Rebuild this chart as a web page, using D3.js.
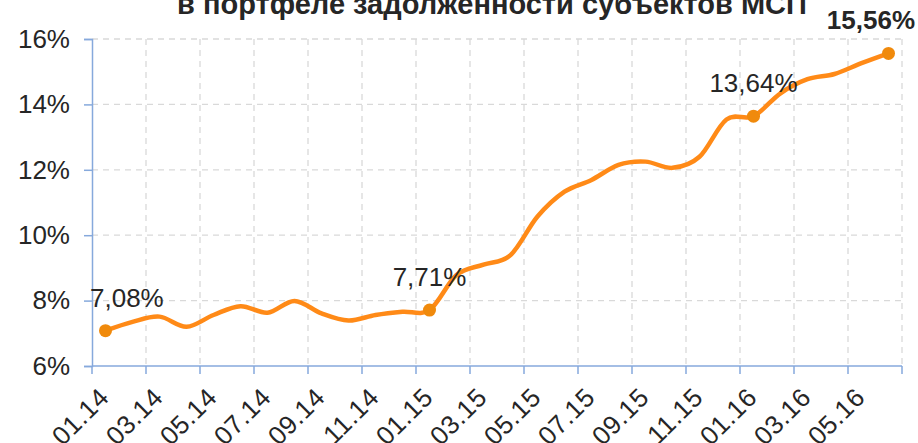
<!DOCTYPE html>
<html>
<head>
<meta charset="utf-8">
<script src="https://cdn.jsdelivr.net/npm/d3@7"></script>
<style>
  body { margin: 0; background: #fff; }
  text { font-family: "Liberation Sans", Arial, sans-serif; fill: #262626; }
</style>
</head>
<body>
<div id="chart"></div>
<script>
// months 01.14 .. 06.16
var months = ['01.14','02.14','03.14','04.14','05.14','06.14','07.14','08.14','09.14','10.14','11.14','12.14',
              '01.15','02.15','03.15','04.15','05.15','06.15','07.15','08.15','09.15','10.15','11.15','12.15',
              '01.16','02.16','03.16','04.16','05.16','06.16'];
// share, %
var shares = [7.08, 7.35, 7.51, 7.20, 7.56, 7.83, 7.63, 7.99, 7.61, 7.39, 7.56, 7.66,
              7.71, 8.78, 9.10, 9.39, 10.57, 11.33, 11.69, 12.15, 12.25, 12.06, 12.40, 13.54,
              13.64, 14.34, 14.77, 14.93, 15.26, 15.56];
var yTicks = [6, 8, 10, 12, 14, 16];
var labelled = ['01.14', '01.15', '01.16', '06.16'];
var title = 'в портфеле задолженности субъектов МСП';

var width = 918, height = 443;
var pLeft = 92, pRight = 902, pTop = 39, pBottom = 366;

var svg = d3.select('#chart').append('svg')
  .attr('width', width)
  .attr('height', height);

var x = d3.scaleBand().domain(months).range([pLeft, pRight]);
var y = d3.scaleLinear().domain([6, 16]).range([pBottom, pTop]);

// title (first line is cut off above)
svg.append('text')
  .attr('x', 492).attr('y', 14)
  .attr('text-anchor', 'middle')
  .style('font-size', '29px').style('font-weight', 'bold')
  .text(title);

// grid
var tickMonths = months.filter(function(d, i) { return i % 2 == 0; });
svg.append('g').selectAll('line')
  .data(yTicks.slice(1))
  .enter().append('line')
  .attr('x1', pLeft).attr('x2', pRight)
  .attr('y1', function(d) { return y(d); }).attr('y2', function(d) { return y(d); })
  .attr('stroke', '#d9d9d9').attr('stroke-width', 1.3).attr('stroke-dasharray', '6,5');
var vLines = tickMonths.slice(1).map(function(d) { return x(d); }).concat([pRight]);
svg.append('g').selectAll('line')
  .data(vLines)
  .enter().append('line')
  .attr('x1', function(d) { return d; }).attr('x2', function(d) { return d; })
  .attr('y1', pTop).attr('y2', pBottom)
  .attr('stroke', '#d9d9d9').attr('stroke-width', 1.3).attr('stroke-dasharray', '6,5');

// y axis
var yAxis = svg.append('g')
  .attr('transform', 'translate(' + pLeft + ',0)')
  .call(d3.axisLeft(y).tickValues(yTicks).tickSize(8).tickPadding(14)
    .tickFormat(function(d) { return d + '%'; }));
yAxis.attr('font-family', null);
yAxis.select('.domain').attr('stroke', '#86a9dc').attr('stroke-width', 1.5);
yAxis.selectAll('.tick line').attr('stroke', '#86a9dc').attr('stroke-width', 1.5);
yAxis.selectAll('.tick text').style('font-size', '26px').attr('fill', '#262626');

// x axis: ticks on band edges every 2 months
var xg = svg.append('g');
xg.append('line')
  .attr('x1', pLeft).attr('x2', pRight).attr('y1', pBottom).attr('y2', pBottom)
  .attr('stroke', '#86a9dc').attr('stroke-width', 1.5);
xg.selectAll('line.t')
  .data(tickMonths.map(function(d) { return x(d); }).concat([pRight]))
  .enter().append('line')
  .attr('class', 't')
  .attr('x1', function(d) { return d; }).attr('x2', function(d) { return d; })
  .attr('y1', pBottom).attr('y2', pBottom + 8)
  .attr('stroke', '#86a9dc').attr('stroke-width', 1.5);
xg.selectAll('text')
  .data(tickMonths)
  .enter().append('text')
  .attr('text-anchor', 'end')
  .attr('transform', function(d) {
    return 'translate(' + (x(d) + x.bandwidth() / 2 + 5) + ',' + (pBottom + 33) + ') rotate(-45)';
  })
  .style('font-size', '26px')
  .style('letter-spacing', '0.5px')
  .text(function(d) { return d; });

// line
var line = d3.line()
  .x(function(d, i) { return x(months[i]) + x.bandwidth() / 2; })
  .y(function(d) { return y(d); })
  .curve(d3.curveCatmullRom.alpha(0));

svg.append('path')
  .datum(shares)
  .attr('d', line)
  .attr('fill', 'none')
  .attr('stroke', '#ff8a17')
  .attr('stroke-width', 4.5)
  .attr('stroke-linecap', 'round');

// markers and labels
var marked = labelled.map(function(m) { return { m: m, v: shares[months.indexOf(m)] }; });
svg.selectAll('circle')
  .data(marked)
  .enter().append('circle')
  .attr('cx', function(d) { return x(d.m) + x.bandwidth() / 2; })
  .attr('cy', function(d) { return y(d.v); })
  .attr('r', 6.5)
  .attr('fill', '#f08a0c');

svg.selectAll('text.lbl')
  .data(marked)
  .enter().append('text')
  .attr('class', 'lbl')
  .attr('text-anchor', 'middle')
  .attr('x', function(d) { return x(d.m) + x.bandwidth() / 2; })
  .attr('y', function(d) { return y(d.v) - 24; })
  .style('font-size', '26px')
  .style('font-weight', function(d, i) { return i == marked.length - 1 ? 'bold' : 'normal'; })
  .text(function(d) { return d.v.toFixed(2).replace('.', ',') + '%'; })
  .each(function() {
    // keep labels inside the chart like Excel does
    var b = this.getBBox();
    var el = d3.select(this);
    var cx = +el.attr('x');
    if (b.x < pLeft - 2) el.attr('x', cx + (pLeft - 2 - b.x));
    if (b.x + b.width > width - 3) el.attr('x', cx - (b.x + b.width - (width - 3)));
  });
</script>
</body>
</html>
